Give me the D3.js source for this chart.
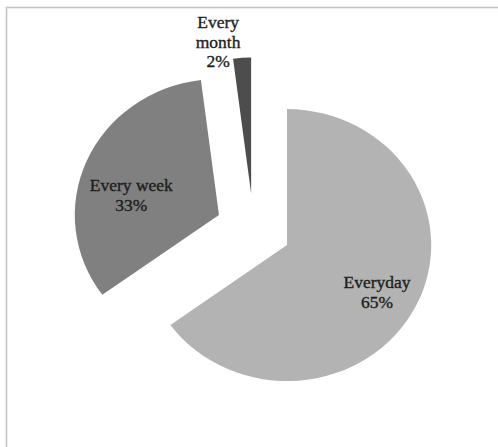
<!DOCTYPE html>
<html>
<head>
<meta charset="utf-8">
<script src="https://cdn.jsdelivr.net/npm/d3@7"></script>
<style>
  html, body { margin: 0; padding: 0; background: #fff; }
  svg { display: block; }
</style>
</head>
<body>
<div id="chart"></div>
<script>
const categories = ["Everyday", "Every week", "Every month"];
const values = [65, 33, 2];
const colors = ["#b3b3b3", "#808080", "#4d4d4d"];

const width = 498;
const height = 447;
const svg = d3.select("#chart").append("svg")
  .attr("width", width)
  .attr("height", height);

// frame (right and bottom edge fall outside the picture)
svg.append("rect")
  .attr("x", 6.5)
  .attr("y", 7.5)
  .attr("width", 600)
  .attr("height", 600)
  .attr("fill", "none")
  .attr("stroke", "#c4c4c4")
  .attr("stroke-width", 1.6);

const cx = 253.5, cy = 229;
const radius = 136;
const stretch = 1.06;   // the original picture is a little wider than tall
const explode = 35.5;

const data = categories.map((c, i) => ({ name: c, value: values[i], color: colors[i] }));

const pie = d3.pie().sort(null).value(d => d.value).startAngle(0).endAngle(2 * Math.PI);
const arc = d3.arc().innerRadius(0).outerRadius(radius);
const arcs = pie(data);

const g = svg.append("g")
  .attr("transform", `translate(${cx},${cy}) scale(${stretch},1)`);

const mid = d => (d.startAngle + d.endAngle) / 2;
const offset = d => [Math.sin(mid(d)) * explode, -Math.cos(mid(d)) * explode];

g.selectAll("path.slice")
  .data(arcs)
  .enter()
  .append("path")
  .attr("class", "slice")
  .attr("d", arc)
  .attr("fill", d => d.data.color)
  .attr("transform", d => `translate(${offset(d)})`);

// label placement, excel "best fit" style: angle tweak (deg) and distance from slice tip
const labelPlace = {
  "Everyday": { da: 2, r: 97 },
  "Every week": { da: -10, r: 85 },
  "Every month": { da: -8, r: 155 }
};

const labels = g.selectAll("g.label")
  .data(arcs)
  .enter()
  .append("g")
  .attr("class", "label")
  .attr("transform", d => {
    const p = labelPlace[d.data.name];
    const a = mid(d) + p.da * Math.PI / 180;
    const [ox, oy] = offset(d);
    return `translate(${ox + Math.sin(a) * p.r},${oy - Math.cos(a) * p.r})`;
  });

labels.each(function(d) {
  const pct = Math.round(d.data.value / d3.sum(values) * 100) + "%";
  const lines = d.data.value < 5 ? d.data.name.split(" ").concat([pct]) : [d.data.name, pct];
  const lh = lines.length > 2 ? 19.8 : 19.5;
  d3.select(this).selectAll("text")
    .data(lines)
    .enter()
    .append("text")
    .attr("x", 0)
    .attr("y", (t, i) => (i - (lines.length - 1) / 2) * lh)
    .attr("dy", "0.35em")
    .attr("text-anchor", "middle")
    .style("font-family", "'Liberation Serif', 'Times New Roman', serif")
    .style("font-size", "16.5px")
    .style("fill", "#1e1e1e")
    .style("stroke", "#1e1e1e")
    .style("stroke-width", 0.35)
    .text(t => t);
});
</script>
</body>
</html>
